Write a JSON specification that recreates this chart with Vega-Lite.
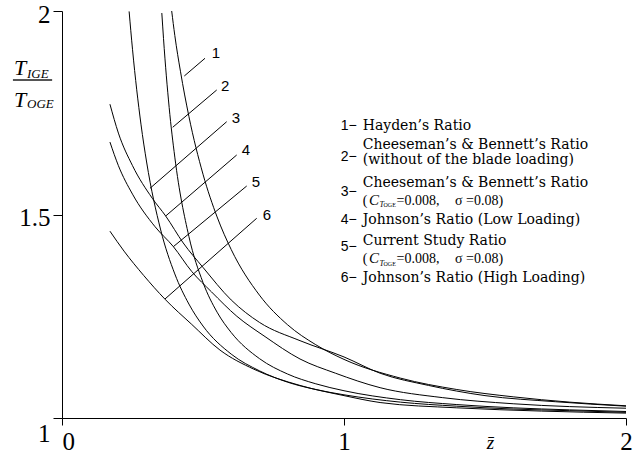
{
  "$schema": "https://vega.github.io/schema/vega-lite/v6.json",
  "width": 564,
  "height": 407,
  "autosize": {"type": "none"},
  "padding": {"left": 62, "top": 11, "right": 17, "bottom": 38},
  "background": "white",
  "config": {"view": {"stroke": null}},
  "datasets": {
    "curves": [
      {"s": "1", "x": 0.389, "y": 2.0}, {"s": "1", "x": 0.4, "y": 1.940}, {"s": "1", "x": 0.42, "y": 1.852}, {"s": "1", "x": 0.45, "y": 1.741}, {"s": "1", "x": 0.5, "y": 1.599}, {"s": "1", "x": 0.55, "y": 1.494}, {"s": "1", "x": 0.6, "y": 1.414}, {"s": "1", "x": 0.7, "y": 1.302}, {"s": "1", "x": 0.8, "y": 1.229}, {"s": "1", "x": 0.9, "y": 1.180}, {"s": "1", "x": 1.0, "y": 1.144}, {"s": "1", "x": 1.2, "y": 1.098}, {"s": "1", "x": 1.4, "y": 1.070}, {"s": "1", "x": 1.6, "y": 1.052}, {"s": "1", "x": 1.8, "y": 1.039}, {"s": "1", "x": 2.0, "y": 1.030},
      {"s": "2", "x": 0.354, "y": 1.995}, {"s": "2", "x": 0.36, "y": 1.932}, {"s": "2", "x": 0.38, "y": 1.763}, {"s": "2", "x": 0.4, "y": 1.641}, {"s": "2", "x": 0.45, "y": 1.446}, {"s": "2", "x": 0.5, "y": 1.333}, {"s": "2", "x": 0.55, "y": 1.260}, {"s": "2", "x": 0.6, "y": 1.210}, {"s": "2", "x": 0.7, "y": 1.146}, {"s": "2", "x": 0.8, "y": 1.108}, {"s": "2", "x": 0.9, "y": 1.084}, {"s": "2", "x": 1.0, "y": 1.067}, {"s": "2", "x": 1.2, "y": 1.045}, {"s": "2", "x": 1.4, "y": 1.033}, {"s": "2", "x": 1.6, "y": 1.025}, {"s": "2", "x": 1.8, "y": 1.020}, {"s": "2", "x": 2.0, "y": 1.016},
      {"s": "3", "x": 0.238, "y": 1.999}, {"s": "3", "x": 0.25, "y": 1.906}, {"s": "3", "x": 0.28, "y": 1.722}, {"s": "3", "x": 0.3, "y": 1.629}, {"s": "3", "x": 0.35, "y": 1.462}, {"s": "3", "x": 0.4, "y": 1.354}, {"s": "3", "x": 0.45, "y": 1.280}, {"s": "3", "x": 0.5, "y": 1.226}, {"s": "3", "x": 0.6, "y": 1.157}, {"s": "3", "x": 0.7, "y": 1.116}, {"s": "3", "x": 0.8, "y": 1.088}, {"s": "3", "x": 0.9, "y": 1.070}, {"s": "3", "x": 1.0, "y": 1.057}, {"s": "3", "x": 1.2, "y": 1.039}, {"s": "3", "x": 1.4, "y": 1.029}, {"s": "3", "x": 1.6, "y": 1.022}, {"s": "3", "x": 1.8, "y": 1.018}, {"s": "3", "x": 2.0, "y": 1.014},
      {"s": "4", "x": 0.17, "y": 1.771}, {"s": "4", "x": 0.2, "y": 1.70}, {"s": "4", "x": 0.25, "y": 1.62}, {"s": "4", "x": 0.32, "y": 1.54}, {"s": "4", "x": 0.368, "y": 1.496}, {"s": "4", "x": 0.43, "y": 1.43}, {"s": "4", "x": 0.5, "y": 1.37}, {"s": "4", "x": 0.6, "y": 1.29}, {"s": "4", "x": 0.7, "y": 1.235}, {"s": "4", "x": 0.844, "y": 1.19}, {"s": "4", "x": 1.0, "y": 1.15}, {"s": "4", "x": 1.128, "y": 1.11}, {"s": "4", "x": 1.3, "y": 1.08}, {"s": "4", "x": 1.5, "y": 1.055}, {"s": "4", "x": 1.75, "y": 1.04}, {"s": "4", "x": 2.0, "y": 1.029},
      {"s": "5", "x": 0.17, "y": 1.678}, {"s": "5", "x": 0.2, "y": 1.62}, {"s": "5", "x": 0.25, "y": 1.55}, {"s": "5", "x": 0.33, "y": 1.47}, {"s": "5", "x": 0.395, "y": 1.421}, {"s": "5", "x": 0.46, "y": 1.36}, {"s": "5", "x": 0.53, "y": 1.31}, {"s": "5", "x": 0.62, "y": 1.25}, {"s": "5", "x": 0.72, "y": 1.2}, {"s": "5", "x": 0.844, "y": 1.145}, {"s": "5", "x": 0.97, "y": 1.11}, {"s": "5", "x": 1.128, "y": 1.0745}, {"s": "5", "x": 1.35, "y": 1.05}, {"s": "5", "x": 1.6, "y": 1.035}, {"s": "5", "x": 2.0, "y": 1.024},
      {"s": "6", "x": 0.17, "y": 1.459}, {"s": "6", "x": 0.22, "y": 1.41}, {"s": "6", "x": 0.29, "y": 1.35}, {"s": "6", "x": 0.365, "y": 1.292}, {"s": "6", "x": 0.46, "y": 1.23}, {"s": "6", "x": 0.56, "y": 1.167}, {"s": "6", "x": 0.68, "y": 1.12}, {"s": "6", "x": 0.844, "y": 1.08}, {"s": "6", "x": 1.0, "y": 1.055}, {"s": "6", "x": 1.128, "y": 1.038}, {"s": "6", "x": 1.4, "y": 1.025}, {"s": "6", "x": 1.7, "y": 1.017}, {"s": "6", "x": 2.0, "y": 1.012}
    ],
    "leaders": [
      {"x": 0.4337, "y": 1.8403, "x2": 0.5071, "y2": 1.8838},
      {"x": 0.3926, "y": 1.7143, "x2": 0.5486, "y2": 1.8059},
      {"x": 0.3121, "y": 1.5644, "x2": 0.5840, "y2": 1.7280},
      {"x": 0.3677, "y": 1.4963, "x2": 0.6195, "y2": 1.6462},
      {"x": 0.3947, "y": 1.4209, "x2": 0.6550, "y2": 1.5700},
      {"x": 0.3652, "y": 1.2924, "x2": 0.6904, "y2": 1.4907}
    ],
    "plotLabels": [
      {"x": 0.5309, "y": 1.8838, "t": "1"},
      {"x": 0.5638, "y": 1.8042, "t": "2"},
      {"x": 0.6018, "y": 1.7256, "t": "3"},
      {"x": 0.6372, "y": 1.6462, "t": "4"},
      {"x": 0.6727, "y": 1.5683, "t": "5"},
      {"x": 0.7117, "y": 1.4865, "t": "6"}
    ],
    "legendNums": [
      {"x": 0.9883, "y": 1.7076, "t": "1−"},
      {"x": 0.9883, "y": 1.6314, "t": "2−"},
      {"x": 0.9883, "y": 1.5455, "t": "3−"},
      {"x": 0.9883, "y": 1.4767, "t": "4−"},
      {"x": 0.9883, "y": 1.4111, "t": "5−"},
      {"x": 0.9883, "y": 1.3349, "t": "6−"}
    ],
    "legendText": [
      {"x": 1.0663, "y": 1.7076, "t": "Hayden’s Ratio"},
      {"x": 1.0663, "y": 1.6609, "t": "Cheeseman’s & Bennett’s Ratio"},
      {"x": 1.0663, "y": 1.6241, "t": "(without of the blade loading)"},
      {"x": 1.0663, "y": 1.5668, "t": "Cheeseman’s & Bennett’s Ratio"},
      {"x": 1.0663, "y": 1.4767, "t": "Johnson’s Ratio (Low Loading)"},
      {"x": 1.0663, "y": 1.4251, "t": "Current Study Ratio"},
      {"x": 1.0663, "y": 1.3349, "t": "Johnson’s Ratio (High Loading)"}
    ],
    "formula": [
      {"x": 1.0663, "y": 1.5233, "t": "("},
      {"x": 1.1862, "y": 1.5233, "t": "=0.008,"},
      {"x": 1.3936, "y": 1.5233, "t": "σ =0.08)"},
      {"x": 1.0663, "y": 1.3801, "t": "("},
      {"x": 1.1862, "y": 1.3801, "t": "=0.008,"},
      {"x": 1.3936, "y": 1.3801, "t": "σ =0.08)"}
    ],
    "formulaItalic": [
      {"x": 1.0887, "y": 1.5233, "t": "C"},
      {"x": 1.0887, "y": 1.3801, "t": "C"}
    ],
    "formulaSubItalic": [
      {"x": 1.1259, "y": 1.5177, "t": "T"},
      {"x": 1.1259, "y": 1.3742, "t": "T"}
    ],
    "formulaSub": [
      {"x": 1.1401, "y": 1.5177, "t": "OGE"},
      {"x": 1.1401, "y": 1.3742, "t": "OGE"}
    ],
    "yT": [
      {"x": -0.170, "y": 1.8428, "t": "T"},
      {"x": -0.170, "y": 1.7641, "t": "T"}
    ],
    "ySub": [
      {"x": -0.124, "y": 1.8354, "t": "IGE"},
      {"x": -0.124, "y": 1.7617, "t": "OGE"}
    ],
    "yBar": [
      {"x": -0.174, "x2": -0.035, "y": 1.8305}
    ]
  },
  "encoding": {
    "x": {
      "field": "x", "type": "quantitative",
      "scale": {"domain": [0, 2], "nice": false, "zero": false},
      "axis": {
        "values": [0, 1, 2], "format": "~g", "grid": false, "labelFlush": false,
        "domainColor": "black", "tickColor": "black", "tickSize": 7,
        "labelFont": "Times New Roman, Liberation Serif, Tinos, Times, serif", "labelFontSize": 25, "labelColor": "black",
        "labelPadding": 4,
        "labelAlign": {"condition": {"test": "datum.value == 0", "value": "left"}, "value": "center"},
        "title": "z̄", "titleFont": "Times New Roman, Liberation Serif, Tinos, Times, serif", "titleFontStyle": "italic", "titleFontWeight": "normal",
        "titleFontSize": 19, "titleColor": "black", "titleX": 428, "titleY": 30, "titleAlign": "center", "titleBaseline": "alphabetic"
      }
    },
    "y": {
      "field": "y", "type": "quantitative",
      "scale": {"domain": [1, 2], "nice": false, "zero": false},
      "axis": {
        "values": [1, 1.5, 2], "format": "~g", "grid": false, "labelFlush": false,
        "domainColor": "black", "tickColor": "black", "tickSize": 9,
        "labelFont": "Times New Roman, Liberation Serif, Tinos, Times, serif", "labelFontSize": 25, "labelColor": "black",
        "labelPadding": 3, "labelOffset": 3,
        "labelBaseline": {"condition": {"test": "datum.value == 1", "value": "top"}, "value": "middle"},
        "title": null
      }
    }
  },
  "layer": [
    {"data": {"name": "curves"}, "mark": {"type": "line", "color": "black", "strokeWidth": 1, "interpolate": "monotone"}, "encoding": {"detail": {"field": "s"}}},
    {"data": {"name": "leaders"}, "mark": {"type": "rule", "color": "black", "strokeWidth": 1}, "encoding": {"x2": {"field": "x2"}, "y2": {"field": "y2"}}},
    {"data": {"name": "plotLabels"}, "mark": {"type": "text", "font": "Arial, Liberation Sans, sans-serif", "fontSize": 15, "align": "left", "baseline": "alphabetic", "color": "black"}, "encoding": {"text": {"field": "t"}}},
    {"data": {"name": "legendNums"}, "mark": {"type": "text", "font": "Arial, Liberation Sans, sans-serif", "fontSize": 14, "align": "left", "baseline": "alphabetic", "color": "black"}, "encoding": {"text": {"field": "t"}}},
    {"data": {"name": "legendText"}, "mark": {"type": "text", "font": "DejaVu Serif", "fontSize": 14, "align": "left", "baseline": "alphabetic", "color": "black"}, "encoding": {"text": {"field": "t"}}},
    {"data": {"name": "formula"}, "mark": {"type": "text", "font": "Times New Roman, Liberation Serif, Tinos, Times, serif", "fontSize": 14, "align": "left", "baseline": "alphabetic", "color": "black"}, "encoding": {"text": {"field": "t"}}},
    {"data": {"name": "formulaItalic"}, "mark": {"type": "text", "font": "Times New Roman, Liberation Serif, Tinos, Times, serif", "fontStyle": "italic", "fontSize": 15, "align": "left", "baseline": "alphabetic", "color": "black"}, "encoding": {"text": {"field": "t"}}},
    {"data": {"name": "formulaSubItalic"}, "mark": {"type": "text", "font": "Times New Roman, Liberation Serif, Tinos, Times, serif", "fontStyle": "italic", "fontSize": 8, "align": "left", "baseline": "alphabetic", "color": "black"}, "encoding": {"text": {"field": "t"}}},
    {"data": {"name": "formulaSub"}, "mark": {"type": "text", "font": "Times New Roman, Liberation Serif, Tinos, Times, serif", "fontSize": 6, "align": "left", "baseline": "alphabetic", "color": "black"}, "encoding": {"text": {"field": "t"}}},
    {"data": {"name": "yT"}, "mark": {"type": "text", "font": "Times New Roman, Liberation Serif, Tinos, Times, serif", "fontStyle": "italic", "fontSize": 22, "align": "left", "baseline": "alphabetic", "color": "black"}, "encoding": {"text": {"field": "t"}}},
    {"data": {"name": "ySub"}, "mark": {"type": "text", "font": "Times New Roman, Liberation Serif, Tinos, Times, serif", "fontStyle": "italic", "fontSize": 13, "align": "left", "baseline": "alphabetic", "color": "black"}, "encoding": {"text": {"field": "t"}}},
    {"data": {"name": "yBar"}, "mark": {"type": "rule", "color": "#555555", "strokeWidth": 2}, "encoding": {"x2": {"field": "x2"}}}
  ]
}
